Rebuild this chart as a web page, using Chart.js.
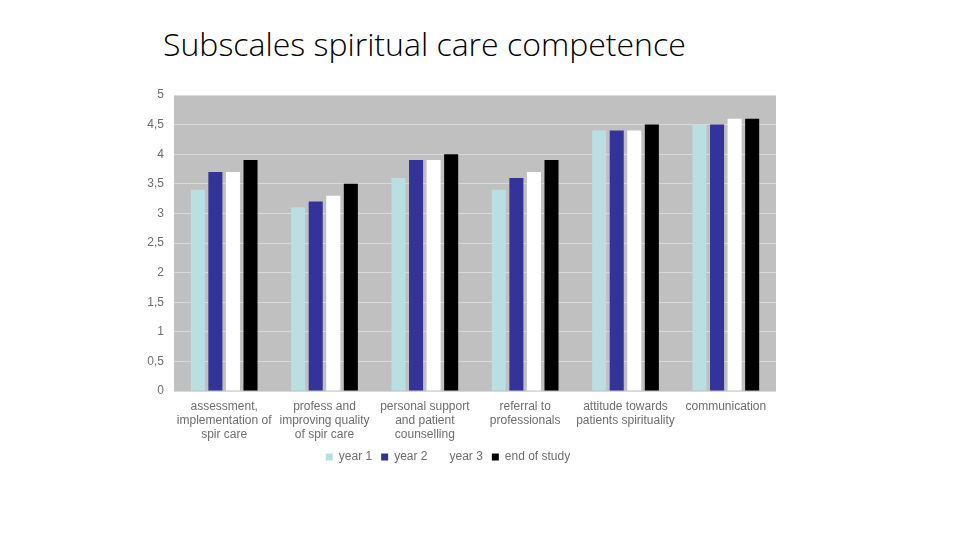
<!DOCTYPE html>
<html>
<head>
<meta charset="utf-8">
<script src="https://cdn.jsdelivr.net/npm/chart.js@4/dist/chart.umd.min.js"></script>
<style>
    body { margin: 0; background: #fff; }
    .page { position: relative; width: 960px; height: 540px; overflow: hidden; }
    .title {
        position: absolute; left: 163px; top: 22px;
        font-family: "Open Sans", sans-serif; font-weight: 300;
        font-size: 32px; color: #000; white-space: nowrap;
    }
    #chart { position: absolute; left: 0; top: 0; }
</style>
</head>
<body>
<div class="page">
    <div class="title">Subscales spiritual care competence</div>
    <canvas id="chart" width="960" height="540"></canvas>
</div>
<script>
// Kategoriler (çok satırlı etiketler)
const categories = [
    ['assessment,', 'implementation of', 'spir care'],
    ['profess and', 'improving quality', 'of spir care'],
    ['personal support', 'and patient', 'counselling'],
    ['referral to', 'professionals'],
    ['attitude towards', 'patients spirituality'],
    ['communication']
];

const year1 = [3.4, 3.1, 3.6, 3.4, 4.4, 4.5];
const year2 = [3.7, 3.2, 3.9, 3.6, 4.4, 4.5];
const year3 = [3.7, 3.3, 3.9, 3.7, 4.4, 4.6];
const endOfStudy = [3.9, 3.5, 4.0, 3.9, 4.5, 4.6];

const yTicks = [0, 0.5, 1, 1.5, 2, 2.5, 3, 3.5, 4, 4.5, 5];

const textColor = '#6e6e6e';
const tickFont = { family: '"Liberation Sans", Arial, sans-serif', size: 12, lineHeight: 1.17 };

// Grafik alanının gri arka planı
const plotBackground = {
    id: 'plotBackground',
    beforeDraw(chart) {
        const { ctx, chartArea } = chart;
        ctx.save();
        ctx.fillStyle = '#c0c0c0';
        ctx.fillRect(chartArea.left, chartArea.top, chartArea.right - chartArea.left, chartArea.bottom - chartArea.top);
        ctx.restore();
    }
};

const ctx = document.getElementById('chart').getContext('2d');
new Chart(ctx, {
    type: 'bar',
    data: {
        labels: categories,
        datasets: [
            { label: 'year 1', data: year1, backgroundColor: '#b9dfe3' },
            { label: 'year 2', data: year2, backgroundColor: '#333399' },
            { label: 'year 3', data: year3, backgroundColor: '#ffffff' },
            { label: 'end of study', data: endOfStudy, backgroundColor: '#000000' }
        ]
    },
    options: {
        responsive: false,
        animation: false,
        layout: { padding: { left: 120, right: 184, top: 95, bottom: 67 } },
        datasets: { bar: { categoryPercentage: 0.7, barPercentage: 0.8 } },
        plugins: {
            legend: {
                position: 'bottom',
                labels: {
                    boxWidth: 7, boxHeight: 7, color: textColor, font: tickFont,
                    padding: 9
                }
            },
            tooltip: { enabled: false }
        },
        scales: {
            x: {
                grid: { display: false },
                border: { display: false },
                afterFit(scale) { scale.height = 51; },
                ticks: {
                    color: textColor, font: tickFont, maxRotation: 0,
                    autoSkip: false, padding: 1
                }
            },
            y: {
                min: 0,
                max: 5,
                afterBuildTicks(scale) {
                    scale.ticks = yTicks.map(v => ({ value: v }));
                },
                afterFit(scale) { scale.width = 54; },
                grid: { color: '#d9d9d9', drawTicks: false },
                border: { display: false },
                ticks: {
                    color: textColor, font: tickFont, padding: 10,
                    callback: v => String(v).replace('.', ',')
                }
            }
        }
    },
    plugins: [plotBackground]
});
</script>
</body>
</html>
